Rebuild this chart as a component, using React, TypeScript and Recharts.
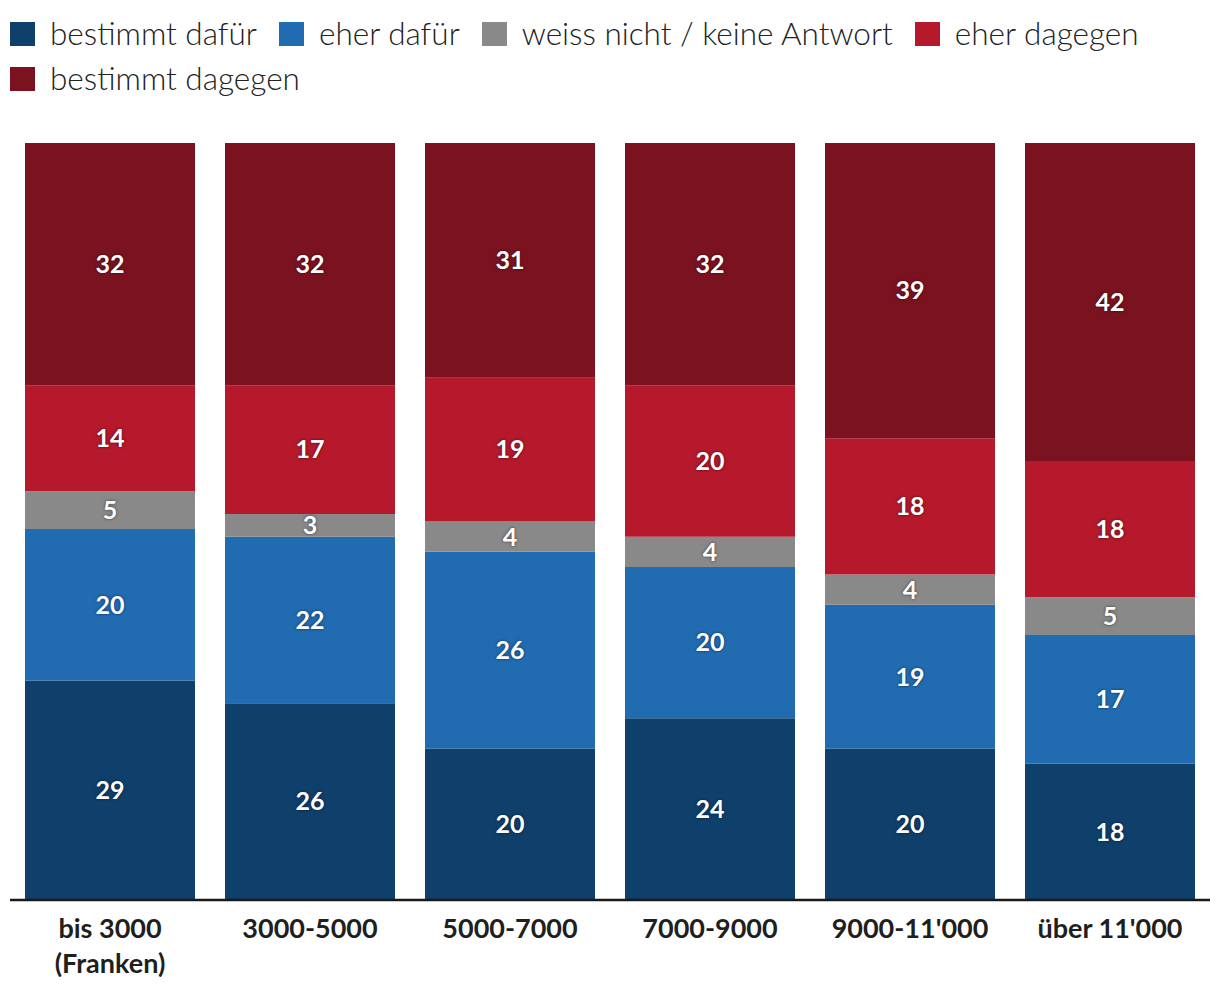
import React from "react";
import { BarChart, Bar, XAxis, YAxis, LabelList } from "recharts";

const categories = ["bis 3000\n(Franken)", "3000-5000", "5000-7000", "7000-9000", "9000-11'000", "über 11'000"];
const bestimmtDafuer = [29, 26, 20, 24, 20, 18];
const eherDafuer = [20, 22, 26, 20, 19, 17];
const weissNicht = [5, 3, 4, 4, 4, 5];
const eherDagegen = [14, 17, 19, 20, 18, 18];
const bestimmtDagegen = [32, 32, 31, 32, 39, 42];

const seriesNames = ["bestimmt dafür", "eher dafür", "weiss nicht / keine Antwort", "eher dagegen", "bestimmt dagegen"];
const colors = ["#0f3f6b", "#216bb1", "#898989", "#b5192b", "#7a131f"];

const data = categories.map((c, i) => ({
  name: c,
  s0: bestimmtDafuer[i],
  s1: eherDafuer[i],
  s2: weissNicht[i],
  s3: eherDagegen[i],
  s4: bestimmtDagegen[i],
}));

const FONT = "Lato, 'Noto Sans', sans-serif";

const Tick = (props: any) => {
  const { x, y, payload } = props;
  const lines = String(payload.value).split("\n");
  return (
    <g transform={`translate(${x},${y})`}>
      {lines.map((l, i) => (
        <text key={i} x={0} y={30 + i * 35} textAnchor="middle" fill="#1f1f1f" fontSize={27} fontWeight={700} fontFamily={FONT}>
          {l}
        </text>
      ))}
    </g>
  );
};

export default function App() {
  return (
    <div style={{ position: "relative", width: 1212, height: 990, background: "#fff" }}>
      <div style={{ position: "absolute", top: 3, left: 2, display: "flex", flexWrap: "wrap", width: 1180, fontFamily: FONT, fontSize: 31.5, fontWeight: 300, color: "#222", lineHeight: "45px" }}>
        {seriesNames.map((n, i) => (
          <div key={n} style={{ display: "flex", alignItems: "center", marginRight: 22 }}>
            <span style={{ display: "inline-block", width: 25, height: 24, background: colors[i], marginRight: 15 }} />
            <span>{n}</span>
          </div>
        ))}
      </div>
      <BarChart width={1212} height={990} data={data} margin={{ top: 135, right: 10, bottom: 0, left: 2 }} barSize={170}>
        <YAxis hide domain={[0, 100]} />
        <XAxis dataKey="name" height={98} interval={0} tickLine={false} axisLine={{ stroke: "#1a1a1a", strokeWidth: 2.5 }} tick={<Tick />} />
        {["s0", "s1", "s2", "s3", "s4"].map((k, i) => (
          <Bar key={k} dataKey={k} name={seriesNames[i]} stackId="a" fill={colors[i]} isAnimationActive={false}>
            <LabelList dataKey={k} position="center" fill="#fff" fontSize={25} fontWeight={700} fontFamily={FONT} style={{ textShadow: "0 0 3px rgba(0,0,0,0.6)" }} />
          </Bar>
        ))}
      </BarChart>
    </div>
  );
}
